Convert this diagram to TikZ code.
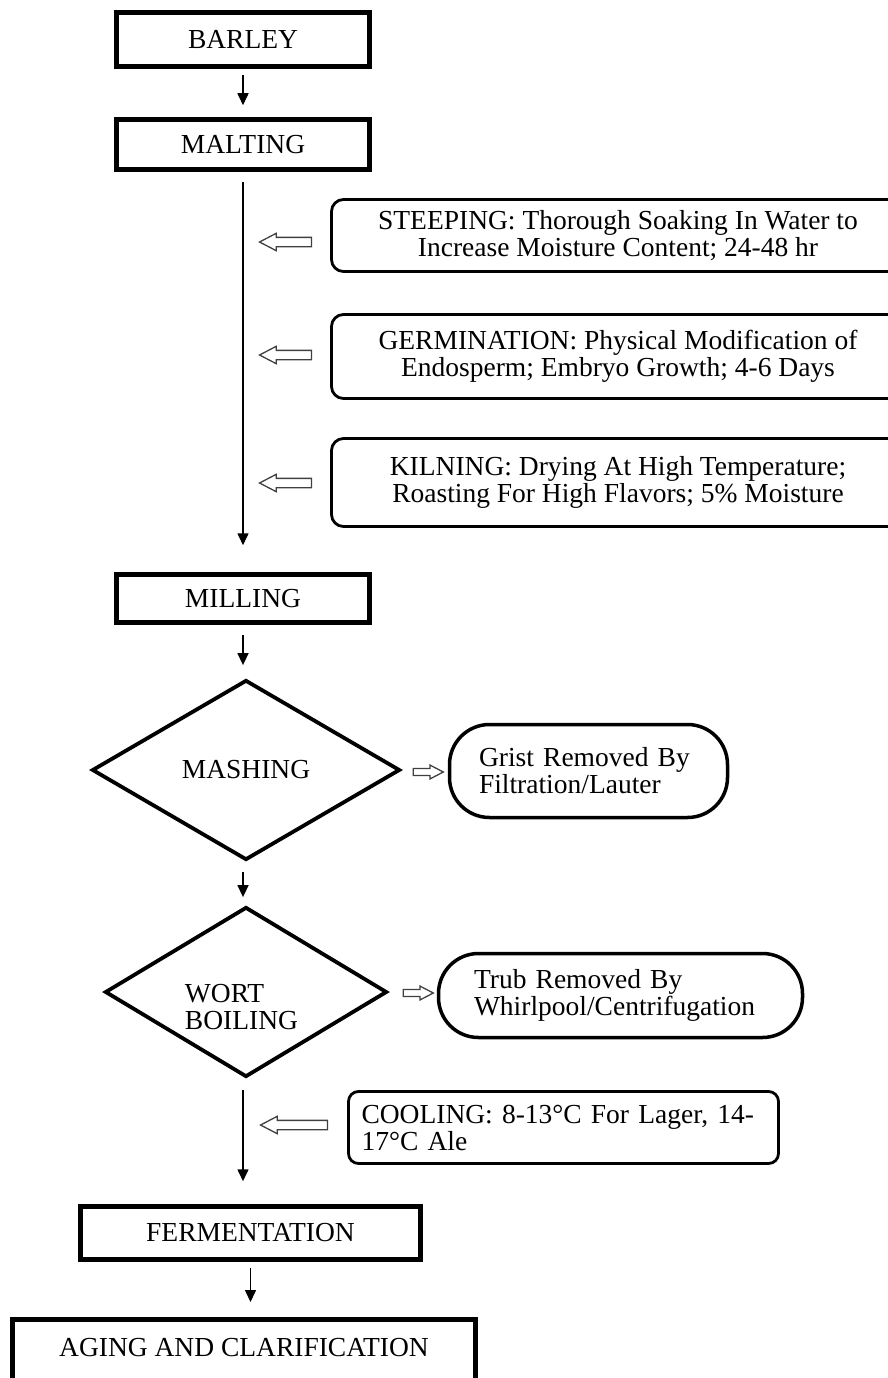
\documentclass[tikz,border=0pt]{standalone}
\usepackage{fontspec}
\setmainfont{Liberation Serif}
\usetikzlibrary{arrows.meta,shapes.geometric,shapes.arrows}
\newcommand{\pxsize}{1pt}
\newcommand{\flowfont}{\fontsize{27.5}{27}\selectfont}

\begin{document}
\begin{tikzpicture}[x=\pxsize,y=-\pxsize,
	stage/.style={draw, line width=4.5pt, inner sep=0pt, font=\flowfont},
	note/.style={draw, line width=2.8pt, rounded corners=12pt, inner sep=0pt, align=center, font=\flowfont},
	decision/.style={draw, diamond, line width=3.8pt, inner sep=0pt, font=\flowfont},
	removed/.style={draw, rounded corners=40pt, line width=3.5pt, inner sep=0pt, align=left, font=\flowfont},
	hollow/.style={draw=black!75, single arrow, line width=1.3pt, inner sep=4pt, single arrow head extend=4pt, single arrow tip angle=55},
	smallhollow/.style={hollow, inner sep=2.8pt, single arrow head extend=3.5pt},
	flow/.style={line width=1.5pt, -{Triangle[length=12pt,width=11pt]}}]
	\useasboundingbox (0,0) rectangle (887,1378);

	\node[stage, minimum width=253, minimum height=54] (barley) at (243,39.5) {BARLEY};
	\node[stage, minimum width=253, minimum height=50] (malting) at (243,144.5) {MALTING};

	\node[note, minimum width=573, minimum height=72] (steep) at (618,235.5) {STEEPING: Thorough Soaking In Water to\\Increase Moisture Content; 24-48 hr};
	\node[note, minimum width=573, minimum height=84] (germ) at (618,356.5) {GERMINATION: Physical Modification of\\Endosperm; Embryo Growth; 4-6 Days};
	\node[note, minimum width=573, minimum height=88] (kiln) at (618,482.5) {KILNING: Drying At High Temperature;\\Roasting For High Flavors; 5\% Moisture};
	\node[hollow, shape border rotate=180, minimum height=52] (steeparr) at (290,242) {};
	\node[hollow, shape border rotate=180, minimum height=52] (germarr) at (290,355) {};
	\node[hollow, shape border rotate=180, minimum height=52] (kilnarr) at (290,483) {};

	\node[stage, minimum width=253, minimum height=48] (milling) at (243,598.5) {MILLING};

	\node[decision, minimum width=308, minimum height=180] (mash) at (246,770) {MASHING};
	\node[smallhollow, minimum height=30] (masharr) at (425,772) {};
	\node[removed, minimum width=278, minimum height=93, text width=219] (grist) at (588.5,771) {Grist Removed By\\Filtration/Lauter};

	\node[decision, minimum width=282, minimum height=170] (boil) at (246,992) {};
	\node[font=\flowfont, align=left, inner sep=0pt] (boiltext) at (241.5,1007.5) {WORT\\BOILING};
	\node[smallhollow, minimum height=30] (boilarr) at (415,993) {};
	\node[removed, minimum width=364, minimum height=84, text width=293] (trub) at (620.5,995.5) {Trub Removed By\\Whirlpool/Centrifugation};

	\node[note, rounded corners=10pt, align=left, text width=404, minimum width=430, minimum height=72] (cool) at (563.5,1127.5) {COOLING: 8-13°C For Lager, 14-\\17°C Ale};
	\node[hollow, shape border rotate=180, minimum height=67] (coolarr) at (298.5,1125) {};

	\node[stage, minimum width=340, minimum height=53] (ferment) at (250.5,1233) {FERMENTATION};
	\node[stage, anchor=north, minimum width=463, minimum height=84, text depth=28pt] (aging) at (244,1317) {AGING AND CLARIFICATION};

	\draw[flow, shorten <=6pt, shorten >=12pt] (barley) -- (malting);
	\draw[flow, shorten <=10pt, shorten >=27pt] (malting) -- (milling);
	\draw[flow, shorten <=10pt, shorten >=13pt] (milling.south) -- (milling.south |- mash.north);
	\draw[flow, shorten <=10pt, shorten >=8pt] (mash.south -| milling) -- (milling |- boil.north);
	\draw[flow, shorten <=11pt, shorten >=23pt] (boil.south -| milling) -- (milling |- ferment.north);
	\draw[flow, shorten <=6pt, shorten >=15pt] (ferment.south) -- (ferment.south |- aging.north);
\end{tikzpicture}
\end{document}
